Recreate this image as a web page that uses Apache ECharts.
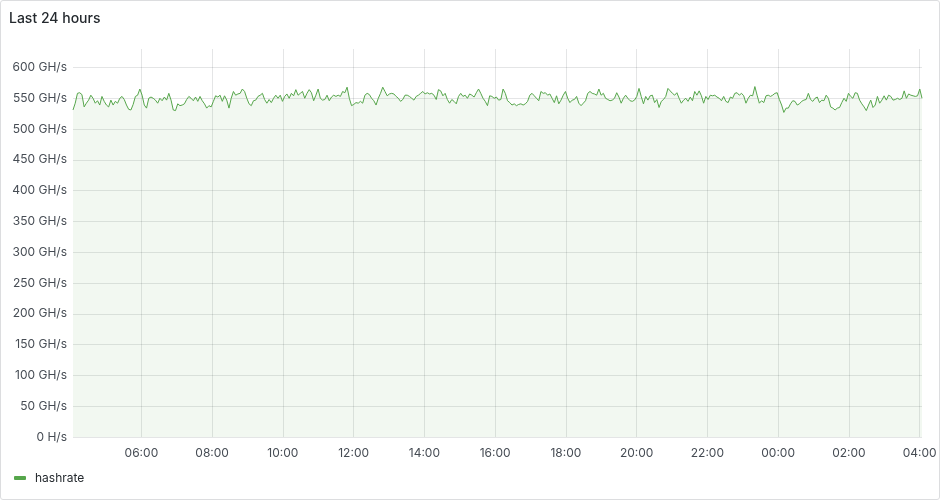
<!DOCTYPE html>
<html>
<head>
<meta charset="utf-8">
<script src="https://cdn.jsdelivr.net/npm/echarts@6/dist/echarts.min.js"></script>
<style>
  html, body { margin: 0; padding: 0; background: #ffffff; }
  #wrap { position: relative; width: 940px; height: 500px; }
  #chart { position: absolute; left: 0; top: 0; width: 940px; height: 500px; }
  #frame { position: absolute; left: 0; top: 0; width: 940px; height: 500px; box-sizing: border-box;
           border: 1px solid #dcdddf; border-radius: 3px; pointer-events: none; }
</style>
</head>
<body>
<div id="wrap"><div id="chart"></div><div id="frame"></div></div>
<script>
// ---- data ----
const title = 'Last 24 hours';
const seriesName = 'hashrate';
// time window (UTC): 04:04 day 1 -> 04:04 day 2
const startTime = Date.UTC(2024, 0, 1, 4, 4);
const endTime = Date.UTC(2024, 0, 2, 4, 4);
const xTickHours = [6, 8, 10, 12, 14, 16, 18, 20, 22, 24, 26, 28];
const yTicks = [0, 50, 100, 150, 200, 250, 300, 350, 400, 450, 500, 550, 600];
// hashrate in GH/s, evenly sampled over the window
const hashrate = [
  531,542,558,559,556,536,542,547,555,550,542,546,539,553,545,539,536,547,539,545,542,550,553,548,539,532,531,540,553,555,565,555,539,534,550,552,
  550,547,542,550,546,552,547,558,547,531,530,541,538,539,541,548,553,550,546,552,545,553,546,541,534,538,536,545,554,552,555,545,554,547,534,550,561,555,
  557,558,565,561,550,541,538,546,547,553,555,558,548,542,548,543,550,555,550,555,545,553,557,550,558,554,564,555,558,561,550,558,564,559,546,555,565,550,
  547,548,555,546,552,555,553,555,553,561,559,568,550,538,540,543,542,545,542,555,558,556,550,546,539,550,558,568,561,554,557,558,557,553,550,545,548,555,
  555,553,550,547,553,555,558,561,557,559,557,558,555,548,564,562,554,558,548,542,548,545,541,553,558,553,555,550,557,555,552,559,565,558,550,545,538,
  554,553,550,552,547,548,565,558,546,543,539,541,538,540,541,539,541,545,555,558,554,550,546,561,558,559,555,557,550,543,554,541,547,555,561,550,543,547,
  548,553,542,538,542,546,558,561,558,557,555,565,555,558,550,548,546,547,550,559,552,542,550,555,550,546,545,547,553,566,553,541,553,547,554,555,543,548,
  535,545,548,553,566,562,558,555,559,550,542,547,550,545,552,546,561,555,562,554,542,553,548,555,554,555,552,550,546,553,545,543,552,550,558,559,555,558,554,
  542,550,555,554,569,555,542,546,543,554,555,553,555,558,559,548,539,527,534,534,541,546,545,539,541,545,547,548,558,548,545,550,552,543,547,546,555,550,536,
  534,531,534,535,543,550,545,558,553,550,559,558,547,541,536,530,539,547,535,539,553,542,547,554,547,555,553,547,548,550,548,550,562,550,557,555,554,553,554,565,550
];

// ---- build ----
const step = (endTime - startTime) / (hashrate.length - 1);
const seriesData = hashrate.map((v, i) => [startTime + i * step, v]);
const dayStart = Date.UTC(2024, 0, 1, 0, 0);
const xTicks = xTickHours.map(h => dayStart + h * 3600000);

const green = '#56A64B';
const textColor = '#464c54';
const gridColor = 'rgba(36,41,46,0.12)';
const font = 'Inter, "Noto Sans", sans-serif';

const chart = echarts.init(document.getElementById('chart'), null, { renderer: 'canvas' });
chart.setOption({
  animation: false,
  backgroundColor: '#ffffff',
  title: {
    text: title, left: 4, top: 7,
    textStyle: { fontSize: 14, fontWeight: 500, color: '#24292e', fontFamily: font }
  },
  legend: {
    left: 9, top: 467, icon: 'roundRect', itemWidth: 12, itemHeight: 4, itemGap: 10,
    textStyle: { fontSize: 12, color: '#24292e', fontFamily: font, padding: [0, 0, 0, 4] },
    data: [seriesName]
  },
  grid: { left: 73, right: 18, top: 49, bottom: 63, containLabel: false },
  xAxis: {
    type: 'value', min: startTime, max: endTime,
    axisLine: { show: false },
    axisTick: { show: false, customValues: xTicks },
    axisLabel: {
      customValues: xTicks, margin: 10, fontSize: 12, color: textColor, fontFamily: font,
      hideOverlap: false, showMinLabel: true, showMaxLabel: true,
      formatter: v => {
        const d = new Date(v);
        return String(d.getUTCHours()).padStart(2, '0') + ':' + String(d.getUTCMinutes()).padStart(2, '0');
      }
    },
    splitLine: { show: true, lineStyle: { color: gridColor, width: 1 } }
  },
  yAxis: {
    type: 'value', min: 0, max: 630,
    axisLine: { show: false },
    axisTick: { show: false, customValues: yTicks },
    axisLabel: {
      customValues: yTicks, margin: 6, fontSize: 12, color: textColor, fontFamily: font,
      formatter: v => v === 0 ? '0 H/s' : v + ' GH/s'
    },
    splitLine: { show: true, lineStyle: { color: gridColor, width: 1 } }
  },
  series: [{
    name: seriesName, type: 'line', data: seriesData,
    showSymbol: false, symbol: 'none', smooth: false,
    lineStyle: { color: green, width: 1 },
    itemStyle: { color: green },
    areaStyle: { color: 'rgba(86,166,75,0.11)', origin: 'start' }
  }]
});
</script>
</body>
</html>
